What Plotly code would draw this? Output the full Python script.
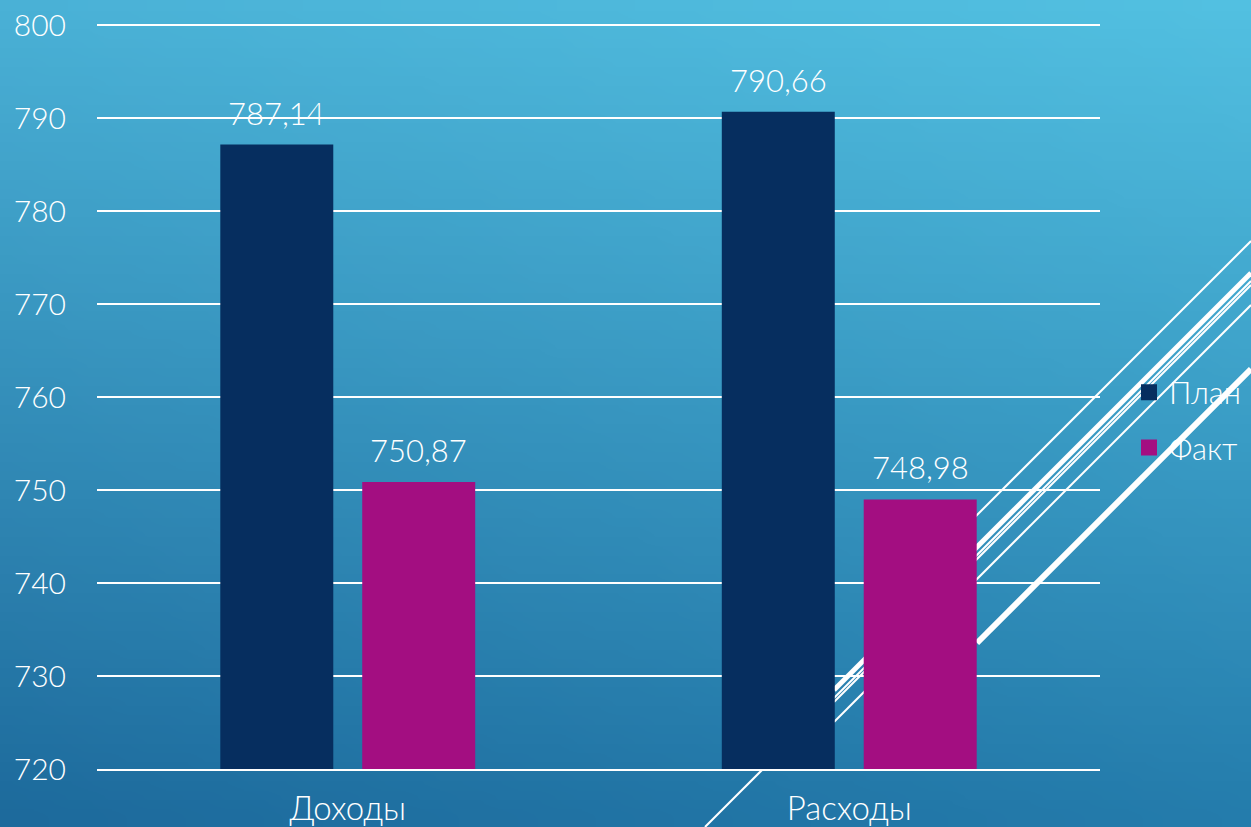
import base64
import struct
import zlib

import plotly.graph_objects as go

# ---------------- data ----------------
categories = ["Доходы", "Расходы"]
plan_values = [787.14, 790.66]
fact_values = [750.87, 748.98]
series_names = ["План", "Факт"]
y_tick_values = [720, 730, 740, 750, 760, 770, 780, 790, 800]

# ---------------- style ----------------
W, H = 1251, 827
FONT = "Lato"
WEIGHT = 300
WHITE = "#FFFFFF"
NAVY = "#062E5F"
MAGENTA = "#A30E81"
Y_RANGE = [720, 800.6]
PX_PER_UNIT = (769 - 25) / 80.0
X_DOMAIN = [97 / W, 1100 / W]
Y_DOMAIN = [1 - 769 / H, 1 - (25 - (Y_RANGE[1] - 800) * PX_PER_UNIT) / H]
BARGAP = 0.434
BARGROUPGAP = 0.204


def make_gradient_png(w, h, tl, tr, bl, br):
    rows = []
    for j in range(h):
        v = j / (h - 1)
        row = bytearray([0])
        for i in range(w):
            u = i / (w - 1)
            for c in range(3):
                top = tl[c] * (1 - u) + tr[c] * u
                bot = bl[c] * (1 - u) + br[c] * u
                row.append(int(round(top * (1 - v) + bot * v)))
        rows.append(bytes(row))
    raw = b"".join(rows)

    def chunk(tag, data):
        c = struct.pack(">I", len(data)) + tag + data
        return c + struct.pack(">I", zlib.crc32(tag + data) & 0xFFFFFFFF)

    png = b"\x89PNG\r\n\x1a\n"
    png += chunk(b"IHDR", struct.pack(">IIBBBBB", w, h, 8, 2, 0, 0, 0))
    png += chunk(b"IDAT", zlib.compress(raw, 9))
    png += chunk(b"IEND", b"")
    return "data:image/png;base64," + base64.b64encode(png).decode()


bg_src = make_gradient_png(64, 44, (74, 177, 214), (82, 192, 225),
                           (29, 106, 156), (36, 124, 172))


def fmt(v):
    return f"{v:.2f}".replace(".", ",")


def tfont(size):
    return dict(family=FONT, size=size, color=WHITE, weight=WEIGHT)


fig = go.Figure()
for name, vals, color in [(series_names[0], plan_values, NAVY),
                          (series_names[1], fact_values, MAGENTA)]:
    fig.add_trace(go.Bar(
        x=categories, y=vals, name=name,
        marker=dict(color=color, line=dict(width=0)),
        showlegend=False,
    ))
# legend swatches (legend-only entries with larger square markers)
for name, color in [(series_names[0], NAVY), (series_names[1], MAGENTA)]:
    fig.add_trace(go.Scatter(
        x=[None], y=[None], mode="markers", name=name, legendgroup=name,
        marker=dict(symbol="square", size=18, color=color),
        showlegend=True,
    ))

# data labels above bars, derived from the data arrays
plot_w_px = W * (X_DOMAIN[1] - X_DOMAIN[0])
cat_px = plot_w_px / len(categories)
slot_px = (1 - BARGAP) * cat_px / 2
annotations = []
for k, vals in enumerate([plan_values, fact_values]):
    shift = (k - 0.5) * slot_px
    for cat, v in zip(categories, vals):
        annotations.append(dict(
            x=cat, y=v, xref="x", yref="y", text=fmt(v), showarrow=False,
            xshift=shift, yshift=11, yanchor="bottom", xanchor="center",
            font=tfont(31),
        ))


def px_line(x0, y0, x1, y1, width):
    return dict(type="line", xref="paper", yref="paper",
                x0=x0 / W, y0=1 - y0 / H, x1=x1 / W, y1=1 - y1 / H,
                line=dict(color=WHITE, width=width), layer="below")


# decorative diagonal slide lines (background theme)
shapes = [
    px_line(1251, 241, 900, 592, 2),
    px_line(1251, 273, 834, 690, 5),
    px_line(1251, 285, 834, 702, 2),
    px_line(1251, 305, 834, 722, 2),
    px_line(1251, 369, 977, 643, 6),
    px_line(1251, 281, 705, 827, 2),
]

fig.update_layout(
    template="none",
    width=W, height=H, autosize=False,
    margin=dict(l=0, r=0, t=0, b=0, pad=0),
    paper_bgcolor="#3A9ACA",
    plot_bgcolor="rgba(0,0,0,0)",
    images=[dict(source=bg_src, xref="paper", yref="paper", x=0, y=1,
                 sizex=1, sizey=1, xanchor="left", yanchor="top",
                 sizing="stretch", layer="below")],
    shapes=shapes,
    annotations=annotations,
    barmode="group",
    bargap=BARGAP,
    bargroupgap=BARGROUPGAP,
    font=tfont(30),
    xaxis=dict(domain=X_DOMAIN, showgrid=False, ticks="",
               showline=True, linecolor=WHITE, linewidth=2,
               zeroline=False, automargin=False,
               tickfont=tfont(33), ticklabelstandoff=9, fixedrange=True),
    yaxis=dict(domain=Y_DOMAIN, range=Y_RANGE, tickvals=y_tick_values,
               showgrid=True, gridcolor=WHITE, gridwidth=2, zeroline=False,
               showline=False, ticks="", automargin=False,
               tickfont=tfont(30), ticklabelstandoff=30, fixedrange=True),
    legend=dict(x=1129 / W, y=1 - 420 / H, xanchor="left", yanchor="middle",
                font=tfont(31), bgcolor="rgba(0,0,0,0)",
                traceorder="grouped", tracegroupgap=12, itemsizing="trace"),
    showlegend=True,
)

fig.write_html(
    "out.html",
    config={"displayModeBar": False},
    post_script=(
        "document.body.style.margin='0';"
        "document.body.style.padding='0';"
        "document.body.style.overflow='hidden';"
        "document.documentElement.style.overflow='hidden';"
    ),
)
